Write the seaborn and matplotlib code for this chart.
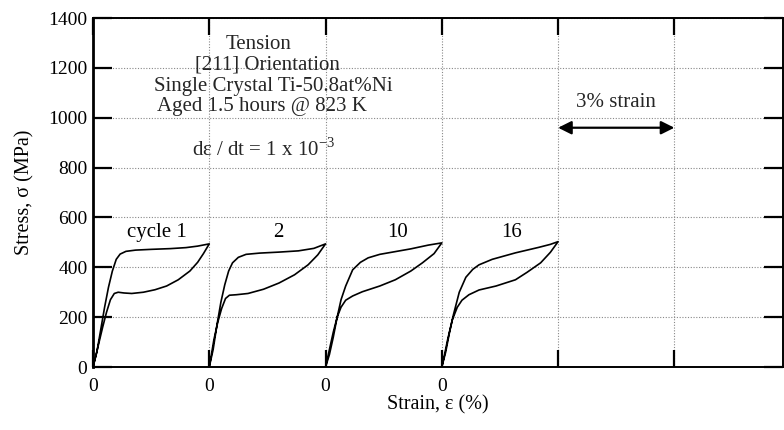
# Stress-strain hysteresis loops for a Ti-50.8at%Ni single crystal, cycles 1, 2, 10 and 16,
# each loop shifted 3% along the strain axis

import pandas as pd
import matplotlib
matplotlib.use("Agg")
from matplotlib import pyplot as plt
import seaborn as sb

# cycle names and where each loop starts on the strain axis (%)
cycles = ["cycle 1", "2", "10", "16"]
offsets = [0, 3, 6, 9]

# loading branches (local strain %, stress MPa)
load_strain_1 = [0, 0.1, 0.2, 0.3, 0.4, 0.5, 0.6, 0.7, 0.85, 1.1, 1.5, 2.0, 2.4, 2.7, 3.0]
load_stress_1 = [0, 60, 150, 240, 320, 385, 432, 453, 464, 469, 472, 475, 479, 485, 494]
load_strain_2 = [0, 0.1, 0.2, 0.3, 0.4, 0.5, 0.6, 0.75, 0.95, 1.3, 1.8, 2.3, 2.7, 3.0]
load_stress_2 = [0, 70, 170, 260, 330, 385, 418, 440, 452, 457, 461, 466, 476, 494]
load_strain_3 = [0, 0.1, 0.2, 0.3, 0.4, 0.52, 0.7, 0.9, 1.1, 1.4, 1.8, 2.2, 2.65, 3.0]
load_stress_3 = [0, 50, 120, 200, 270, 325, 390, 420, 438, 452, 463, 474, 489, 498]
load_strain_4 = [0, 0.1, 0.2, 0.3, 0.45, 0.62, 0.8, 0.96, 1.3, 1.9, 2.5, 2.8, 3.0]
load_stress_4 = [0, 60, 140, 210, 300, 360, 392, 410, 432, 458, 480, 492, 503]

# unloading branches (local strain %, stress MPa)
unload_strain_1 = [3.0, 2.85, 2.7, 2.5, 2.2, 1.9, 1.6, 1.3, 1.0, 0.8, 0.65, 0.55, 0.45, 0.35, 0.25, 0.15, 0.05, 0]
unload_stress_1 = [494, 455, 420, 385, 350, 325, 310, 300, 295, 297, 300, 295, 270, 220, 160, 95, 30, 0]
unload_strain_2 = [3.0, 2.8, 2.55, 2.2, 1.8, 1.4, 1.0, 0.7, 0.52, 0.42, 0.32, 0.22, 0.12, 0.05, 0]
unload_stress_2 = [494, 450, 410, 370, 337, 312, 295, 290, 288, 275, 235, 180, 110, 45, 0]
unload_strain_3 = [3.0, 2.8, 2.5, 2.2, 1.8, 1.4, 0.95, 0.7, 0.52, 0.4, 0.3, 0.2, 0.1, 0]
unload_stress_3 = [498, 455, 418, 385, 350, 325, 302, 285, 268, 240, 200, 140, 70, 0]
unload_strain_4 = [3.0, 2.8, 2.55, 2.2, 1.9, 1.4, 0.96, 0.7, 0.52, 0.4, 0.27, 0.15, 0.05, 0]
unload_stress_4 = [503, 460, 418, 380, 350, 325, 309, 290, 268, 240, 189, 110, 35, 0]

# tick labels
y_ticks = [0, 200, 400, 600, 800, 1000, 1200, 1400]
x_ticks = [0, 3, 6, 9, 12, 15]
x_tick_labels = ["0", "0", "0", "0", "", ""]

loads = [(load_strain_1, load_stress_1), (load_strain_2, load_stress_2),
         (load_strain_3, load_stress_3), (load_strain_4, load_stress_4)]
unloads = [(unload_strain_1, unload_stress_1), (unload_strain_2, unload_stress_2),
           (unload_strain_3, unload_stress_3), (unload_strain_4, unload_stress_4)]

# Build one long table: one unit per loop (loading then unloading)
rows = []
for name, off, (ls, lst), (us, ust) in zip(cycles, offsets, loads, unloads):
    for s, v in zip(ls + us, lst + ust):
        rows.append({"cycle": name, "strain": s + off, "stress": v})
data = pd.DataFrame(rows)

sb.set_theme(style="white")
plt.rcParams["font.family"] = ["Liberation Serif", "DejaVu Serif"]
plt.rcParams["mathtext.fontset"] = "custom"
plt.rcParams["mathtext.rm"] = "Liberation Serif"

fig = plt.figure(figsize=(7.84, 4.30), dpi=100)
ax = fig.add_axes([0.1186, 0.1465, 0.8800, 0.8115])

sb.lineplot(data=data, x="strain", y="stress", units="cycle", estimator=None,
            sort=False, color="black", linewidth=1.2, ax=ax)

ax.set_xlim(0, 17.8)
ax.set_ylim(0, 1400)
ax.set_yticks(y_ticks)
ax.set_xticks(x_ticks)
ax.set_xticklabels(x_tick_labels)
ax.tick_params(axis="both", labelsize=14, colors="black")
ax.tick_params(axis="y", direction="in", length=14, width=1.6, left=True, right=True, pad=4)
ax.tick_params(axis="x", direction="in", length=12, width=1.6, bottom=True, top=True, pad=8)

ax.grid(True, linestyle=(0, (1, 1.5)), color="#888888", linewidth=0.8)
for sp in ax.spines.values():
    sp.set_color("black")
    sp.set_linewidth(1.4)
ax.spines["left"].set_linewidth(2)

ax.set_xlabel("Strain, ε (%)", fontsize=14.5, labelpad=0, color="black")
ax.set_ylabel("Stress, σ (MPa)", fontsize=14.5, labelpad=10, color="black")

# cycle labels above each loop
label_x = [1.65, 4.77, 7.87, 10.8]
for name, lx in zip(cycles, label_x):
    ax.text(lx, 540, name, fontsize=15, ha="center", va="center", color="black")

# condition block
ax.text(4.26, 1292, "Tension", fontsize=15, ha="center", va="center")
ax.text(4.5, 1212, "[211] Orientation", fontsize=15, ha="center", va="center")
ax.text(4.65, 1127, "Single Crystal Ti-50.8at%Ni", fontsize=15, ha="center", va="center")
ax.text(4.36, 1046, "Aged 1.5 hours @ 823 K", fontsize=15, ha="center", va="center")
ax.text(4.4, 872, r"dε / dt = 1 x 10$^{\mathregular{-3}}$", fontsize=15, ha="center", va="center")

# 3% strain scale bar
ax.annotate("", xy=(12, 960), xytext=(15, 960),
            arrowprops=dict(arrowstyle="<|-|>", color="black", lw=1.6,
                            mutation_scale=20, shrinkA=0, shrinkB=0))
ax.text(13.5, 1062, "3% strain", fontsize=15, ha="center", va="center")

plt.savefig("out.png", dpi=100)
